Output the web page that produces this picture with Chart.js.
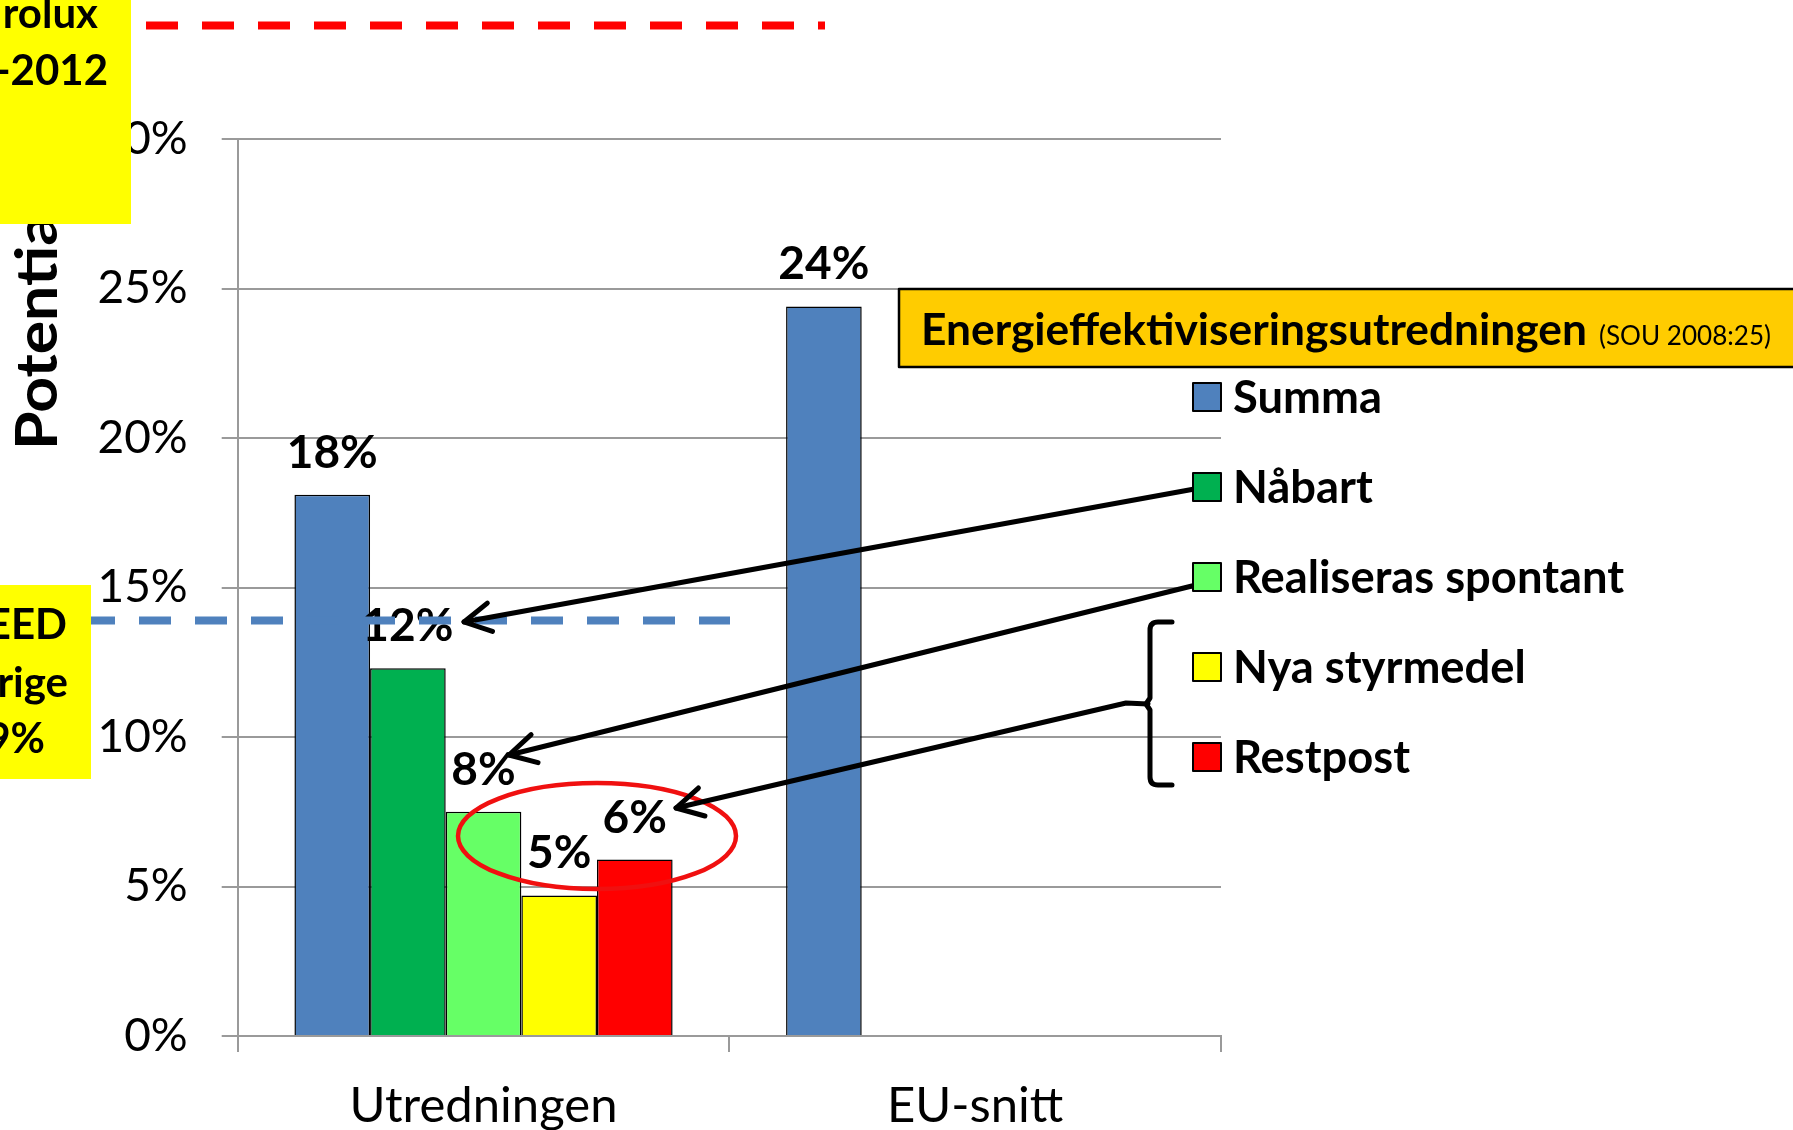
<!DOCTYPE html>
<html><head><meta charset="utf-8">
<script src="https://cdn.jsdelivr.net/npm/chart.js@4/dist/chart.umd.min.js"></script>
<style>html,body{margin:0;padding:0;background:#fff;overflow:hidden}#wrap{width:1793px;height:1130px;position:relative}</style>
</head><body><div id="wrap"><canvas id="c" width="1793" height="1130"></canvas></div>
<script>
// ---- data ----
const categories = ['Utredningen', 'EU-snitt'];
const seriesNames = ['Summa', 'Nåbart', 'Realiseras spontant', 'Nya styrmedel', 'Restpost'];
const summa = [18.1, 24.4];
const nabart = [12.3, null];
const spontant = [7.5, null];
const styrmedel = [4.7, null];
const restpost = [5.9, null];
const seriesColors = ['#4F81BD', '#00B050', '#66FF66', '#FFFF00', '#FF0000'];
const yMin = 0, yMax = 30, yStep = 5;
const eedLevel = 13.9;          // blue dashed line
const electroluxLevel = 33.8;   // red dashed line (above the axis)
const titleText = 'Energieffektiviseringsutredningen';
const titleSource = '(SOU 2008:25)';
const yTitle = 'Potential';
const box1Lines = ['rolux', '-2012'];
const box2Lines = ['EED', 'rige', '9%'];

const FONT = 'Lato';

function fitText(ctx, text, x, y, width) {
  const w = ctx.measureText(text).width;
  ctx.save();
  ctx.translate(x, y);
  ctx.scale(width / w, 1);
  ctx.fillText(text, 0, 0);
  ctx.restore();
}
function arrow(ctx, pts) {
  ctx.beginPath();
  ctx.moveTo(pts[0][0], pts[0][1]);
  for (let i = 1; i < pts.length; i++) ctx.lineTo(pts[i][0], pts[i][1]);
  ctx.stroke();
  const [tx, ty] = pts[pts.length - 1];
  const [fx, fy] = pts[pts.length - 2];
  const a = Math.atan2(fy - ty, fx - tx);
  const L = 30, h = 0.5;
  ctx.beginPath();
  ctx.moveTo(tx + L * Math.cos(a - h), ty + L * Math.sin(a - h));
  ctx.lineTo(tx, ty);
  ctx.lineTo(tx + L * Math.cos(a + h), ty + L * Math.sin(a + h));
  ctx.stroke();
}

const overlay = {
  id: 'overlay',
  afterDatasetsDraw(chart) {
    const ctx = chart.ctx;
    const ys = chart.scales.y;
    ctx.save();
    // value labels
    ctx.font = 'bold 46px ' + FONT;
    ctx.fillStyle = '#000';
    ctx.textAlign = 'center';
    ctx.textBaseline = 'alphabetic';
    chart.data.datasets.forEach((ds, i) => {
      chart.getDatasetMeta(i).data.forEach((bar, j) => {
        const v = ds.data[j];
        if (v == null) return;
        ctx.fillText(Math.round(v) + '%', bar.x, bar.y - 27);
      });
    });
    // red ellipse
    ctx.strokeStyle = '#F01010';
    ctx.lineWidth = 4.5;
    ctx.beginPath();
    ctx.ellipse(597, 836, 139, 53, 0, 0, Math.PI * 2);
    ctx.stroke();
    // dashed reference lines
    ctx.lineWidth = 8;
    ctx.setLineDash([32, 24]);
    ctx.strokeStyle = '#4F81BD';
    let yy = ys.getPixelForValue(eedLevel);
    ctx.beginPath(); ctx.moveTo(83, yy); ctx.lineTo(730, yy); ctx.stroke();
    ctx.strokeStyle = '#FF0000';
    yy = ys.getPixelForValue(electroluxLevel);
    ctx.beginPath(); ctx.moveTo(146, yy); ctx.lineTo(825, yy); ctx.stroke();
    ctx.setLineDash([]);
    ctx.restore();
  },
  afterDraw(chart) {
    const ctx = chart.ctx;
    ctx.save();
    // y title
    ctx.fillStyle = '#000';
    ctx.font = 'bold 58px ' + FONT;
    const wPart = ctx.measureText(yTitle.slice(0, 8)).width;
    ctx.translate(57, 450);
    ctx.rotate(-Math.PI / 2);
    ctx.scale(236 / wPart, 1);
    ctx.textAlign = 'left';
    ctx.textBaseline = 'alphabetic';
    ctx.fillText(yTitle, 0, 0);
    ctx.restore();

    ctx.save();
    // arrows
    ctx.strokeStyle = '#000';
    ctx.lineWidth = 5;
    ctx.lineCap = 'round';
    ctx.lineJoin = 'round';
    arrow(ctx, [[1200, 488], [464, 622]]);
    arrow(ctx, [[1200, 584], [509, 755]]);
    arrow(ctx, [[1148, 704], [1126, 703], [676, 808]]);
    // brace
    ctx.beginPath();
    ctx.moveTo(1172, 622);
    ctx.lineTo(1158, 622);
    ctx.quadraticCurveTo(1150, 622, 1150, 630);
    ctx.lineTo(1150, 698);
    ctx.lineTo(1146, 704);
    ctx.lineTo(1150, 710);
    ctx.lineTo(1150, 777);
    ctx.quadraticCurveTo(1150, 785, 1158, 785);
    ctx.lineTo(1172, 785);
    ctx.stroke();

    // legend
    const legendY = [397, 487, 577, 667, 757];
    ctx.font = 'bold 46px ' + FONT;
    ctx.textAlign = 'left';
    ctx.textBaseline = 'alphabetic';
    chart.data.datasets.forEach((ds, i) => {
      const cy = legendY[i];
      ctx.fillStyle = ds.backgroundColor;
      ctx.fillRect(1193, cy - 14, 28, 28);
      ctx.lineWidth = 2;
      ctx.strokeStyle = '#000';
      ctx.strokeRect(1193, cy - 14, 28, 28);
      ctx.fillStyle = '#000';
      const w = ctx.measureText(ds.label).width;
      ctx.save();
      ctx.translate(1233, cy + 16);
      ctx.scale(0.985, 1);
      ctx.fillText(ds.label, 0, 0);
      ctx.restore();
    });

    // orange title box
    ctx.fillStyle = '#FFCC00';
    ctx.fillRect(899, 289, 900, 78);
    ctx.strokeStyle = '#000';
    ctx.lineWidth = 2.5;
    ctx.strokeRect(899, 289, 900, 78);
    ctx.fillStyle = '#000';
    ctx.font = 'bold 43px ' + FONT;
    fitText(ctx, titleText, 921, 345, 666);
    ctx.font = '27px ' + FONT;
    fitText(ctx, titleSource, 1599, 345, 172);

    // yellow boxes
    ctx.fillStyle = '#FFFF00';
    ctx.fillRect(0, 0, 131, 224);
    ctx.fillRect(0, 585, 91, 194);
    ctx.fillStyle = '#000';
    ctx.font = 'bold 42px ' + FONT;
    ctx.textAlign = 'right';
    ctx.fillText(box1Lines[0], 98, 28);
    ctx.fillText(box1Lines[1], 108, 85);
    ctx.fillText(box2Lines[0], 67, 639);
    ctx.fillText(box2Lines[1], 68, 697);
    ctx.fillText(box2Lines[2], 45, 753);
    ctx.restore();
  }
};

const seriesData = [summa, nabart, spontant, styrmedel, restpost];
const datasets = seriesNames.map((name, i) => ({
  label: name,
  data: seriesData[i],
  backgroundColor: seriesColors[i],
  borderColor: '#000',
  borderWidth: 1.5,
  categoryPercentage: 5 / 6.5,
  barPercentage: 1.0
}));

new Chart(document.getElementById('c'), {
  type: 'bar',
  data: { labels: categories, datasets },
  options: {
    responsive: false,
    animation: false,
    devicePixelRatio: 1,
    layout: { padding: { left: 0, right: 572, top: 139, bottom: 0 } },
    plugins: { legend: { display: false }, tooltip: { enabled: false } },
    scales: {
      x: {
        afterFit: s => { s.height = 94; },
        grid: { drawOnChartArea: false, drawTicks: true, tickLength: 16, color: '#9a9a9a', lineWidth: 2 },
        border: { color: '#9a9a9a', width: 2 },
        ticks: { color: '#000', font: { family: FONT, size: 49 }, padding: 25 }
      },
      y: {
        min: yMin, max: yMax,
        afterFit: s => { s.width = 237.7; },
        grid: { color: '#9a9a9a', lineWidth: 2, tickLength: 16 },
        border: { color: '#9a9a9a', width: 2 },
        ticks: { stepSize: yStep, color: '#000', font: { family: FONT, size: 46 }, padding: 34,
                 callback: v => v + '%' }
      }
    }
  },
  plugins: [overlay]
});
</script>
</body></html>
